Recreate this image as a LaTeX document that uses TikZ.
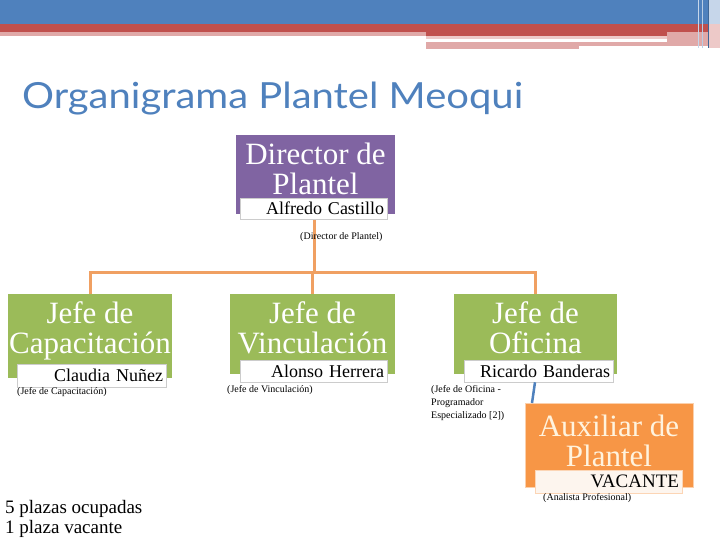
\documentclass[tikz,border=0pt]{standalone}
\usepackage{fontspec}
\setmainfont{Liberation Serif}
\newfontfamily\titlefont{Lato}
\usetikzlibrary{calc}
\definecolor{hdrblue}{HTML}{4F81BD}
\definecolor{hdrred}{HTML}{C0504D}
\definecolor{hdrpink}{HTML}{E0A9A8}
\definecolor{hdrpalepink}{HTML}{EDC9C8}
\definecolor{hdrpaleblue}{HTML}{C6D6EA}
\definecolor{titleblue}{HTML}{4F81BD}
\definecolor{dirpurple}{HTML}{8064A2}
\definecolor{jefegreen}{HTML}{9BBB59}
\definecolor{auxorange}{HTML}{F79646}
\definecolor{linkorange}{HTML}{F0A062}
\definecolor{auxtext}{HTML}{FFF3DE}
\definecolor{vacfill}{HTML}{FDF5EE}
\begin{document}
\begin{tikzpicture}[x=1pt,y=-1pt,
  rolebox/.style={inner sep=0pt, outer sep=0pt},
  namebox/.style={fill=white, draw=black!20, line width=0.6pt, inner xsep=3pt, inner ysep=0pt,
    align=right, font=\fontsize{18}{18}\selectfont},
  roletext/.style={inner sep=0pt, anchor=north, align=center, font=\fontsize{31}{30}\selectfont},
  subtext/.style={inner sep=0pt, font=\fontsize{10}{13}\selectfont},
  orangelink/.style={draw=linkorange, line width=3pt},
  bluelink/.style={draw=hdrblue, line width=2.5pt}]
\useasboundingbox (0,0) rectangle (720,540);
% header bands
\fill[hdrblue] (0,0) rectangle (720,24);
\fill[hdrred] (0,24) rectangle (720,32);
\fill[hdrred] (426,32) rectangle (667,35.7);
\fill[hdrpink] (0,32) rectangle (426,35.7);
\fill[hdrpalepink] (426,35.7) rectangle (667,39);
\fill[hdrpink] (426,41.7) rectangle (579,49);
\fill[hdrpink] (579,41.7) rectangle (667,45.7);
\fill[hdrpink] (667,32) rectangle (720,45.7);
\fill[hdrpaleblue] (708,0) rectangle (720,24);
\fill[hdrpalepink] (708,24) rectangle (720,48);
\draw[hdrpaleblue, line width=1pt] (698,0) -- (698,48);
\draw[white!60!hdrblue, line width=1pt] (702,0) -- (702,48);
\draw[hdrblue!80!black, line width=0.8pt] (708,0) -- (708,48);
% title
\node[anchor=base west, inner sep=0pt, text=titleblue] (title) at (22,109)
  {\resizebox{501pt}{\height}{\fontsize{36}{36}\titlefont Organigrama Plantel Meoqui}};
% boxes
\node[rolebox, fill=dirpurple, minimum width=159pt, minimum height=79pt] (dir) at (315.5,174.5) {};
\node[rolebox, fill=jefegreen, minimum width=164pt, minimum height=84pt] (cap) at (90,336) {};
\node[rolebox, fill=jefegreen, minimum width=165pt, minimum height=80pt] (vin) at (312.5,334) {};
\node[rolebox, fill=jefegreen, minimum width=163pt, minimum height=80pt] (ofi) at (535.5,334) {};
\node[rolebox, fill=auxorange, draw=auxorange!45!white, line width=1pt, minimum width=168pt, minimum height=84pt] (aux) at (609,445) {};
% connectors
\coordinate (j) at (314,272);
\draw[orangelink] ([xshift=-1.5pt]dir.south) -- (j);
\draw[orangelink] (cap.north) -- (cap.north |- j) -- (ofi.north |- j) -- (ofi.north);
\draw[orangelink] (vin.north |- j) -- (vin.north);
% role texts
\node[roletext, text=white] (dirt) at (315.5,143) {Director de\\Plantel};
\node[roletext, text=white] (capt) at (90,301) {Jefe de\\Capacitación};
\node[roletext, text=white] (vint) at (312.5,301) {Jefe de\\Vinculación};
\node[roletext, text=white] (ofit) at (535.5,301) {Jefe de\\Oficina};
\node[roletext, text=auxtext] (auxt) at (609,415) {Auxiliar de\\Plantel};
% name boxes
\node[namebox, text width=141pt, minimum height=21pt] (dirn) at (313.5,208.5) {Alfredo Castillo};
\node[namebox, text width=143pt, minimum height=23pt] (capn) at (91.5,375.5) {Claudia Nuñez};
\node[namebox, text width=141pt, minimum height=22pt] (vinn) at (313.5,371) {Alonso Herrera};
\node[namebox, text width=143pt, minimum height=22pt] (ofin) at (538.5,371) {Ricardo Banderas};
\draw[bluelink] ([xshift=-3.5pt]ofin.south) -- ([xshift=-77pt]aux.north);
\node[namebox, fill=vacfill, draw=auxorange!40!white, text width=141pt, minimum height=23pt, font=\fontsize{19}{19}\selectfont] (auxn) at (608.5,481.5) {VACANTE};
% subtitles
\node[subtext, anchor=base west] (dirs) at (300,240) {(Director de Plantel)};
\node[subtext, anchor=base west] (caps) at (17,394) {(Jefe de Capacitación)};
\node[subtext, anchor=base west] (vins) at (227,392) {(Jefe de Vinculación)};
\node[subtext, anchor=north west, align=left] (ofis) at (431,385) {(Jefe de Oficina -\\Programador\\Especializado [2])};
\node[subtext, anchor=base west] (auxs) at (543,500) {(Analista Profesional)};
% bottom note
\node[inner sep=0pt, anchor=north west, align=left, font=\fontsize{19}{20}\selectfont] (note) at (5,500)
  {5 plazas ocupadas\\1 plaza vacante};
\end{tikzpicture}
\end{document}
